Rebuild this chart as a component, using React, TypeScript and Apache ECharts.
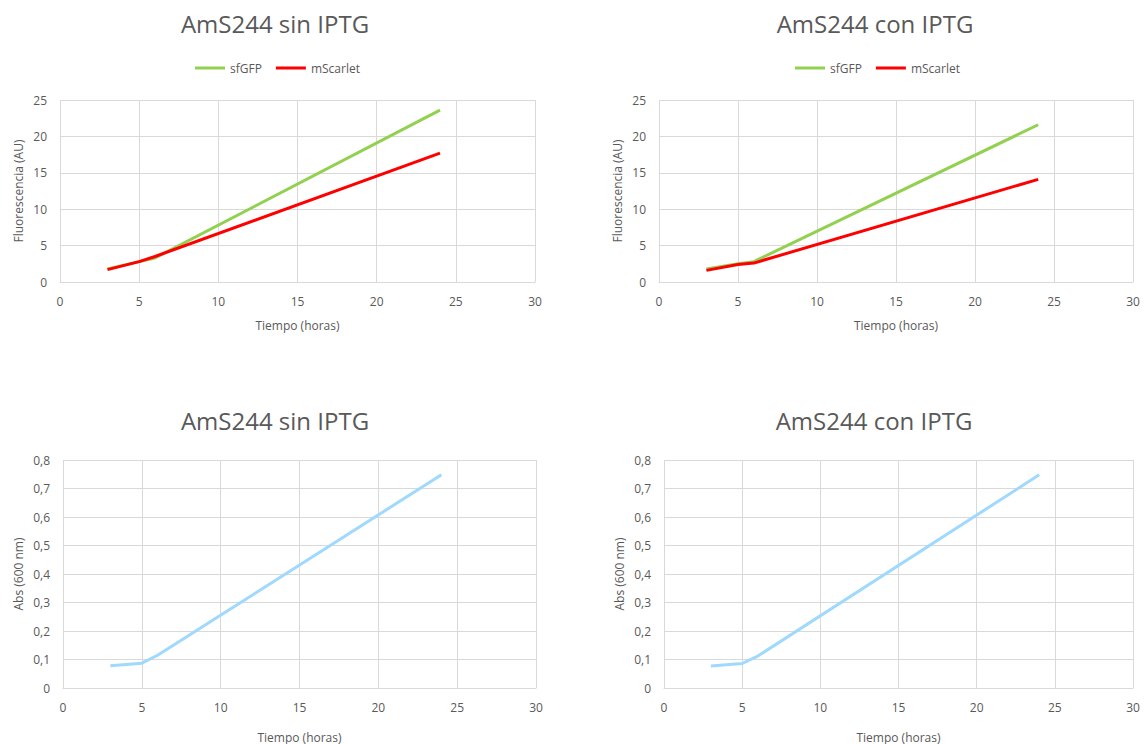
import React, { useEffect, useRef } from "react";
import * as echarts from "echarts";

const hours = [3, 5, 6, 24];
const sinGFP = [1.8, 2.8, 3.3, 23.6];
const sinScarlet = [1.7, 2.8, 3.5, 17.7];
const conGFP = [1.8, 2.5, 2.8, 21.6];
const conScarlet = [1.6, 2.4, 2.6, 14.1];
const absSin = [0.078, 0.087, 0.115, 0.748];
const absCon = [0.077, 0.086, 0.112, 0.748];

const titles = ["AmS244 sin IPTG", "AmS244 con IPTG", "AmS244 sin IPTG", "AmS244 con IPTG"];
const xName = "Tiempo (horas)";
const yNameFluo = "Fluorescencia (AU)";
const yNameAbs = "Abs (600 nm)";

const FONT = "'Open Sans', 'Noto Sans', sans-serif";
const TXT = "#595959";
const GRID = "#D9D9D9";
const GREEN = "#92D050";
const RED = "#FF0000";
const BLUE = "#9FD9FD";

const pts = (xs: number[], ys: number[]) => xs.map((x, i) => [x, ys[i]]);

export default function App() {
  const ref = useRef<HTMLDivElement>(null);
  useEffect(() => {
    document.body.style.margin = "0";
    const chart = echarts.init(ref.current!, null, { renderer: "svg" });
    const grids = [
      { left: 60, top: 100, width: 475, height: 182 },
      { left: 659, top: 100, width: 474, height: 182 },
      { left: 63, top: 460, width: 473, height: 232 },
      { left: 664, top: 460, width: 469, height: 232 },
    ];
    const titleCenters = [275, 875, 275, 874];
    const titleTops = [6, 6, 403, 403];
    const xAxis = grids.map((g, i) => ({
      type: "value",
      gridIndex: i,
      min: 0,
      max: 30,
      interval: 5,
      name: xName,
      nameLocation: "middle",
      nameGap: i < 2 ? 37 : 43,
      nameTextStyle: { color: TXT, fontFamily: FONT, fontSize: 12 },
      axisLine: { show: true, lineStyle: { color: GRID, width: 1 } },
      axisTick: { show: false },
      axisLabel: { color: TXT, fontFamily: FONT, fontSize: 12, margin: 13 },
      splitLine: { show: true, lineStyle: { color: GRID, width: 1 } },
    }));
    const yAxis = grids.map((g, i) => ({
      type: "value",
      gridIndex: i,
      min: 0,
      max: i < 2 ? 25 : 0.8,
      interval: i < 2 ? 5 : 0.1,
      name: i < 2 ? yNameFluo : yNameAbs,
      nameLocation: "middle",
      nameGap: i < 2 ? 36 : 39,
      nameTextStyle: { color: TXT, fontFamily: FONT, fontSize: 12 },
      axisLine: { show: false },
      axisTick: { show: false },
      axisLabel: {
        color: TXT,
        fontFamily: FONT,
        fontSize: 12,
        margin: 13,
        formatter: (v: number) => (i < 2 ? String(v) : v === 0 ? "0" : v.toFixed(1).replace(".", ",")),
      },
      splitLine: { show: true, lineStyle: { color: GRID, width: 1 } },
    }));
    const line = (name: string, idx: number, data: number[][], color: string) => ({
      name,
      type: "line",
      xAxisIndex: idx,
      yAxisIndex: idx,
      data,
      symbol: "none",
      lineStyle: { color, width: 3 },
      itemStyle: { color },
    });
    chart.setOption({
      animation: false,
      backgroundColor: "#ffffff",
      title: titles.map((t, i) => ({
        text: t,
        left: titleCenters[i] - 5,
        top: titleTops[i],
        textAlign: "center",
        textStyle: { color: TXT, fontFamily: FONT, fontSize: 24, fontWeight: "normal" },
      })),
      legend: [
        { left: 190, top: 57, data: ["sfGFP", "mScarlet"] },
        { left: 790, top: 57, data: ["sfGFP", "mScarlet"] },
      ].map((l) => ({
        ...l,
        icon: "rect",
        itemWidth: 30,
        itemHeight: 3,
        itemGap: 14,
        textStyle: { color: TXT, fontFamily: FONT, fontSize: 12 },
        selectedMode: false,
      })),
      grid: grids,
      xAxis,
      yAxis,
      series: [
        line("sfGFP", 0, pts(hours, sinGFP), GREEN),
        line("mScarlet", 0, pts(hours, sinScarlet), RED),
        line("sfGFP", 1, pts(hours, conGFP), GREEN),
        line("mScarlet", 1, pts(hours, conScarlet), RED),
        line("Abs sin", 2, pts(hours, absSin), BLUE),
        line("Abs con", 3, pts(hours, absCon), BLUE),
      ],
    });
    return () => chart.dispose();
  }, []);
  return <div ref={ref} style={{ width: 1148, height: 744 }} />;
}
